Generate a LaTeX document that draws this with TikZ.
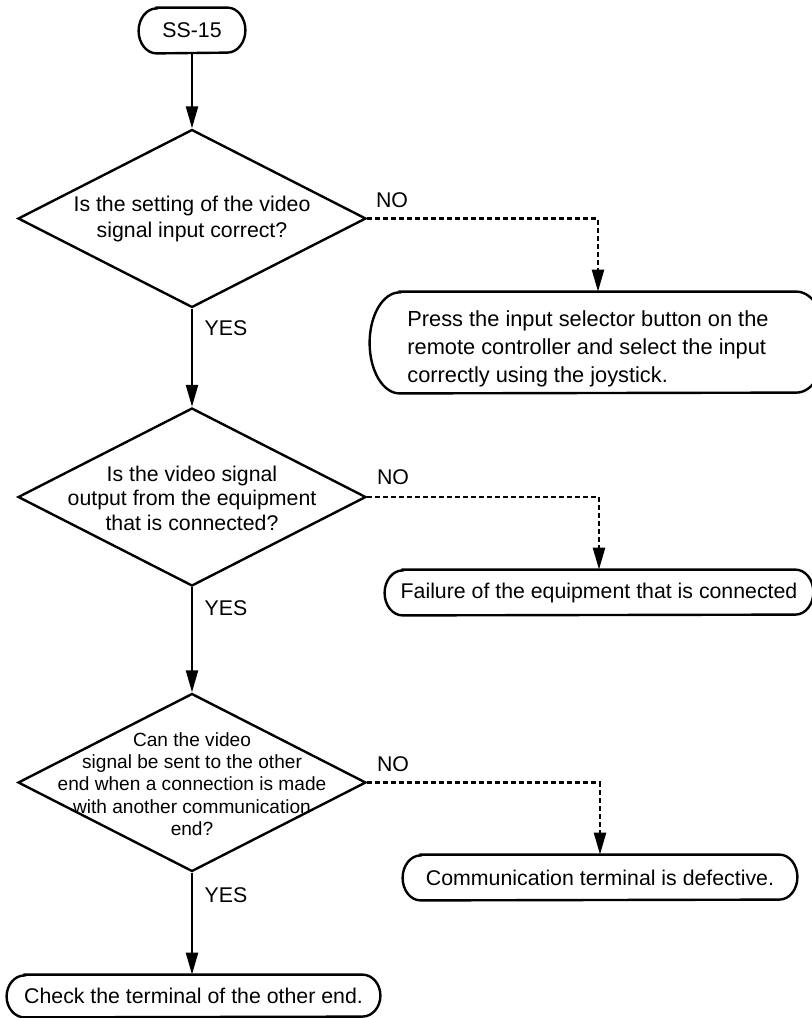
\documentclass[tikz,border=0pt]{standalone}
\usepackage{fontspec}
\setmainfont{Liberation Sans}
\usetikzlibrary{shapes.geometric,arrows.meta}
\newcommand\TermBorder[3]{%
  \draw[outline] ([xshift=#2]#1.north west) -- ([xshift=-#2]#1.north east)
    arc[start angle=90,end angle=-90,x radius=#2,y radius=#3]
    -- ([xshift=#2]#1.south west)
    arc[start angle=270,end angle=90,x radius=#2,y radius=#3] -- cycle;}
\begin{document}
\begin{tikzpicture}[x=0.5pt,y=-0.5pt,
  outline/.style={line width=1.2pt},
  decision/.style={draw, diamond, minimum width=174pt, minimum height=89pt, inner sep=0pt, line width=1.2pt},
  term/.style={inner sep=0pt, font=\fontsize{10.65pt}{13pt}\selectfont},
  txt/.style={font=\fontsize{10.65pt}{13pt}\selectfont, align=center, inner sep=0pt},
  flow/.style={-{Triangle[length=11pt,width=6pt]}, line width=1.2pt},
  noflow/.style={flow, dash pattern=on 2.5pt off 1.5pt},
  lbl/.style={font=\fontsize{10.65pt}{13pt}\selectfont, inner sep=0pt}]
\useasboundingbox (0,0) rectangle (812,1018);

% start terminal
\node[term, minimum width=53pt, minimum height=22.5pt] (t0) at (192,30.5) {SS-15};
\TermBorder{t0}{9pt}{11.25pt}

% decision 1
\node[decision] (d1) at (192,218.5) {};
\node[txt] (d1t) at (192,219) {Is the setting of the video\\signal input correct?};

% result box 1
\node[inner sep=0pt, minimum width=228pt, minimum height=50.5pt] (b1) at (598,342.5) {};
\TermBorder{b1}{15pt}{25.25pt}
\node[txt, font=\fontsize{10.9pt}{14pt}\selectfont, align=left, anchor=west] (b1t) at (407,349)
  {Press the input selector button on the\\remote controller and select the input\\correctly using the joystick.};

% decision 2
\node[decision] (d2) at (192,497) {};
\node[txt, font=\fontsize{10.65pt}{12.3pt}\selectfont] (d2t) at (192,498) {Is the video signal\\output from the equipment\\that is connected?};

% result box 2
\node[term, minimum width=214pt, minimum height=22.5pt] (f1) at (599,592.5) {Failure of the equipment that is connected};
\TermBorder{f1}{9pt}{11.25pt}

% decision 3
\node[decision] (d3) at (192,782.5) {};
\node[txt, font=\fontsize{9.55pt}{11.1pt}\selectfont] (d3t) at (192,784)
  {Can the video\\signal be sent to the other\\end when a connection is made\\with another communication\\end?};

% result box 3
\node[term, minimum width=197pt, minimum height=22.5pt] (c1) at (600,877.5) {Communication terminal is defective.};
\TermBorder{c1}{9pt}{11.25pt}

% end terminal
\node[term, minimum width=186.5pt, minimum height=21pt] (e1) at (193.5,996) {Check the terminal of the other end.};
\TermBorder{e1}{9pt}{10.5pt}

% connectors
\draw[flow] (t0.south) -- (d1.north);
\draw[noflow] (d1.east) -| (b1.north);
\draw[flow] (d1.south) -- (d2.north);
\draw[noflow] (d2.east) -| (f1.north);
\draw[flow] (d2.south) -- (d3.north);
\draw[noflow] (d3.east) -| (c1.north);
\draw[flow] (d3.south) -- (d3.south |- e1.north);

% labels
\node[lbl] (no1) at (392,200) {NO};
\node[lbl] (yes1) at (226,328) {YES};
\node[lbl] (no2) at (393,477) {NO};
\node[lbl] (yes2) at (226,608) {YES};
\node[lbl] (no3) at (393,764) {NO};
\node[lbl] (yes3) at (226,895) {YES};
\end{tikzpicture}
\end{document}
